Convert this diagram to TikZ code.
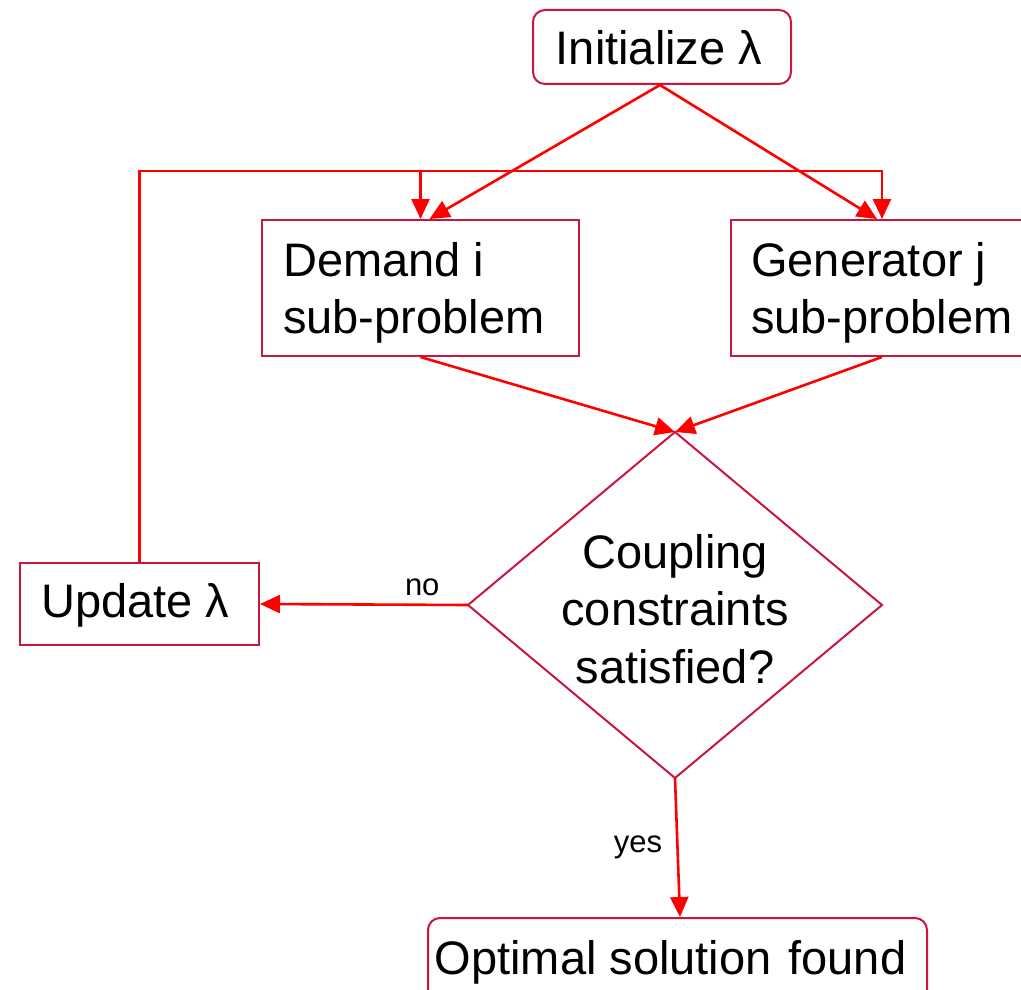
\documentclass[tikz,border=0pt]{standalone}
\usepackage{fontspec}
\setmainfont{Liberation Sans}
\usetikzlibrary{shapes.geometric,arrows.meta,calc}
\definecolor{boxred}{HTML}{C8163F}
\definecolor{arrred}{HTML}{FF0000}
\tikzset{
  box/.style={draw=boxred, line width=2pt, fill=white, inner sep=0pt},
  rbox/.style={box, rounded corners=12pt},
  txt/.style={font=\fontsize{47}{57.5}\selectfont, inner sep=0pt, align=left},
  arr/.style={draw=arrred, line width=2.6pt, -{Triangle[length=20pt,width=18pt]}},
  lab/.style={font=\fontsize{31}{36}\selectfont, inner sep=0pt}
}
\begin{document}
\begin{tikzpicture}[x=1pt,y=-1pt]
\useasboundingbox (0,0) rectangle (1021,990);
\clip (0,0) rectangle (1021,990);
% boxes
\node[rbox, minimum width=258pt, minimum height=74pt] (init) at (662,47) {};
\node[txt] (initT) at (659,48) {Initialize λ};
\node[box, minimum width=317pt, minimum height=136pt] (demand) at (420.5,288) {};
\node[txt, anchor=west] (demandT) at (283,293) {Demand i\\sub-problem};
\node[box, minimum width=302pt, minimum height=136pt] (gen) at (882,288) {};
\node[txt, anchor=west] (genT) at (751,293) {Generator j\\sub-problem};
\node[box, minimum width=239pt, minimum height=82pt] (update) at (139.5,604) {};
\node[txt] (updateT) at (135.5,605) {Update λ};
\node[rbox, minimum width=499pt, minimum height=84pt] (opt) at (677.5,960) {};
\node[txt] (optT) at (670.5,962) {Optimal solution\hspace{4pt} found};
% decision diamond
\coordinate (dn) at (675,432);
\coordinate (de) at (882,605);
\coordinate (ds) at (675,778);
\coordinate (dw) at (468,605);
\draw[boxred, line width=2pt] (dn) -- (de) -- (ds) -- (dw) -- cycle;
\node[txt, align=center] (decT) at (675,609) {Coupling\\constraints\\satisfied?};
% connectors
\draw[arr] (update.north) |- ($(gen.north)+(0,-48)$) -- (gen.north);
\draw[arr] ($(demand.north)+(0,-48)$) -- (demand.north);
\draw[arr] ($(init.south)+(-2,0)$) -- ($(demand.north)+(9,0)$);
\draw[arr] ($(init.south)+(-2,0)$) -- ($(gen.north)+(-5,0)$);
\draw[arr] (demand.south) -- (dn);
\draw[arr] (gen.south) -- (dn);
\draw[arr] (dw) -- node[lab, above=8pt, pos=0.22] (no) {no} (update.east);
\draw[arr] (ds) -- node[lab, left=14pt, pos=0.5] (yes) {yes} ($(opt.north)+(2.5,0)$);
\end{tikzpicture}
\end{document}
